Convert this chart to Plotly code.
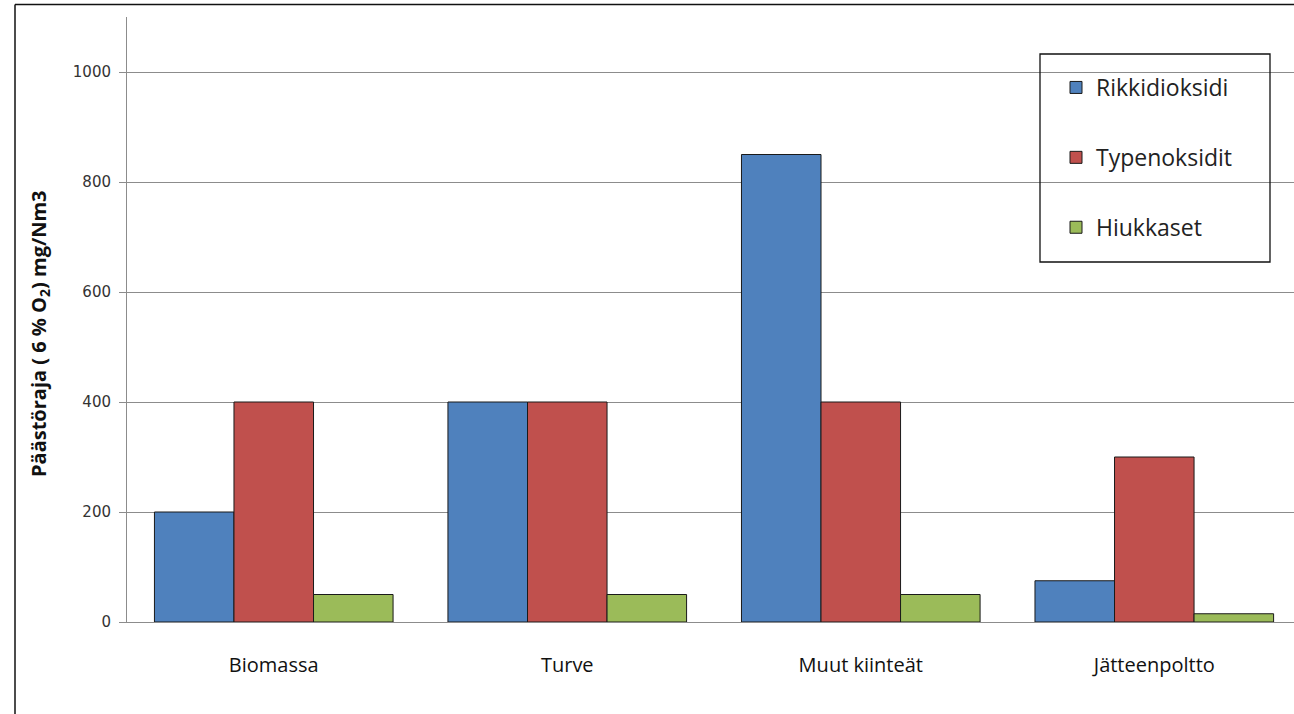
import plotly.graph_objects as go

categories = ["Biomassa", "Turve", "Muut kiinteät", "Jätteenpoltto"]
rikkidioksidi = [200, 400, 850, 75]
typenoksidit = [400, 400, 400, 300]
hiukkaset = [50, 50, 50, 15]
series_names = ["Rikkidioksidi", "Typenoksidit", "Hiukkaset"]
colors = ["#4F81BD", "#C0504D", "#9BBB59"]
y_ticks = [0, 200, 400, 600, 800, 1000]

W, H = 1294, 714
L, R, T, B = 127, 0, 17, 92
pw, ph = W - L - R, H - T - B

def px(x):
    return (x - L) / pw

def py(y):
    return (H - B - y) / ph

fig = go.Figure()
for i, (name, vals) in enumerate(zip(series_names, [rikkidioksidi, typenoksidit, hiukkaset])):
    fig.add_trace(go.Bar(
        x=categories, y=vals, name=name, legendgroup=name,
        marker=dict(color=colors[i], line=dict(color="#1a1a1a", width=1)),
    ))

axis_gray = "#8c8c8c"
fig.update_layout(
    width=W, height=H,
    margin=dict(l=L, r=R, t=T, b=B, autoexpand=False),
    paper_bgcolor="white", plot_bgcolor="white",
    barmode="group", bargap=0.187, bargroupgap=0,
    showlegend=True,
    legend=dict(
        x=px(1056), y=py(66), xanchor="left", yanchor="top",
        font=dict(family="Open Sans", size=23, color="#222"),
        tracegroupgap=37, bgcolor="rgba(0,0,0,0)", borderwidth=0,
    ),
    xaxis=dict(
        range=[-0.5, 3.476], showgrid=False, showline=True, linecolor=axis_gray,
        linewidth=1, ticks="", tickfont=dict(family="Open Sans", size=20, color="#111"),
        ticklabelstandoff=25, fixedrange=True,
    ),
    yaxis=dict(
        range=[0, 1100], tickvals=y_ticks, showgrid=True, gridcolor=axis_gray, gridwidth=1,
        showline=True, linecolor=axis_gray, linewidth=1, ticks="outside", ticklen=7,
        tickcolor=axis_gray, tickfont=dict(family="DejaVu Sans", size=15, color="#333"),
        ticklabelstandoff=5, zeroline=False,
    ),
    shapes=[
        dict(type="rect", xref="paper", yref="paper", x0=px(1040), x1=px(1270),
             y0=py(262), y1=py(54), line=dict(color="#111", width=1.3), fillcolor="rgba(0,0,0,0)"),
        dict(type="line", xref="paper", yref="paper", x0=px(15), x1=px(1294),
             y0=py(4.5), y1=py(4.5), line=dict(color="#111", width=1.5)),
        dict(type="line", xref="paper", yref="paper", x0=px(15), x1=px(15),
             y0=py(4.5), y1=py(714), line=dict(color="#111", width=1.5)),
    ],
    annotations=[
        dict(text="Päästöraja ( 6 % O<sub>2</sub>) mg/Nm3", xref="paper", yref="paper",
             x=px(40), y=py(334), textangle=-90, showarrow=False,
             font=dict(family="Open Sans", size=20, color="#111", weight="bold"),
             xanchor="center", yanchor="middle"),
    ],
)

fig.write_html("out.html", config={"displayModeBar": False})
